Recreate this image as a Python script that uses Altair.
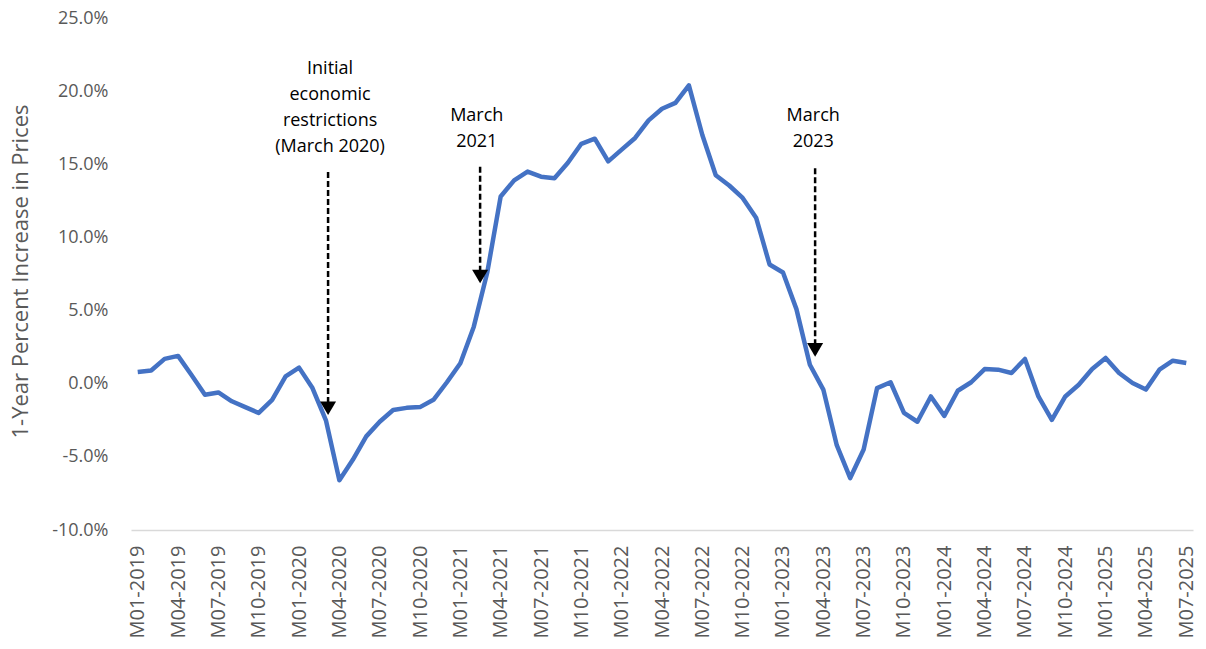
import json
import altair as alt
import pandas as pd

# ---- data ----
years = [2019, 2020, 2021, 2022, 2023, 2024, 2025]
months = [f"M{m:02d}-{y}" for y in years for m in range(1, 13)][:79]

pct_change = [
    0.8, 0.9, 1.7, 1.9, 0.6, -0.75, -0.6, -1.2, -1.6, -2.0, -1.1, 0.5,
    1.1, -0.3, -2.5, -6.6, -5.2, -3.6, -2.6, -1.8, -1.65, -1.6, -1.1, 0.1,
    1.4, 3.9, 7.6, 12.8, 13.9, 14.5, 14.15, 14.05, 15.1, 16.4, 16.75, 15.2,
    16.0, 16.8, 18.0, 18.8, 19.2, 20.4, 17.0, 14.25, 13.55, 12.7, 11.35, 8.15,
    7.6, 5.1, 1.3, -0.4, -4.2, -6.45, -4.5, -0.3, 0.1, -2.0, -2.6, -0.87,
    -2.2, -0.48, 0.1, 1.0, 0.96, 0.73, 1.69, -0.87, -2.47, -0.87, -0.07, 1.0,
    1.76, 0.73, 0.05, -0.4, 0.96, 1.57, 1.42,
]

tick_idx = list(range(0, 79, 3))
y_ticks = [-10, -5, 0, 5, 10, 15, 20, 25]

# annotations (data coordinates: month index, percent)
arrow_x = [14.16, 25.47, 50.39]
arrow_top = [14.47, 14.84, 14.73]
arrow_tip = [-2.14, 6.86, 1.85]

note_text = ["Initial\neconomic\nrestrictions\n(March 2020)", "March\n2021", "March\n2023"]
note_x = [14.31, 25.22, 50.25]
note_y = [22.1, 18.9, 18.9]

# ---- frames ----
df = pd.DataFrame({"idx": list(range(len(pct_change))), "month": months, "pct": pct_change})
arrows = pd.DataFrame({"x": arrow_x, "top": arrow_top, "tip": arrow_tip})
notes = pd.DataFrame({"x": note_x, "y": note_y, "text": note_text})

FONT = "Open Sans"
GRAY = "#595959"

x_scale = alt.Scale(domain=[-0.5, 78.5], nice=False, zero=False)
y_scale = alt.Scale(domain=[-10, 25], nice=False)

x_axis = alt.Axis(
    values=tick_idx,
    labelExpr=f"{json.dumps(months)}[datum.value]",
    labelAngle=-90,
    labelAlign="right",
    labelBaseline="middle",
    labelFontSize=20,
    labelFont=FONT,
    labelColor=GRAY,
    labelPadding=15,
    ticks=False,
    grid=False,
    domainColor="#d9d9d9",
    domainWidth=1.5,
    title=None,
    labelOverlap=False,
)

y_axis = alt.Axis(
    values=y_ticks,
    labelExpr="(datum.value < 0 ? '-' : '') + format(abs(datum.value), '.1f') + '%'",
    labelFontSize=18,
    labelFont=FONT,
    labelColor=GRAY,
    labelPadding=23,
    ticks=False,
    grid=False,
    domain=False,
    title="1-Year Percent Increase in Prices",
    titleFont=FONT,
    titleFontSize=22,
    titleFontWeight="normal",
    titleColor=GRAY,
    titleX=-111,
    titleY=253,
    titleAngle=270,
    titleAlign="center",
    titleBaseline="middle",
)

line = alt.Chart(df).mark_line(color="#4472C4", strokeWidth=4.5, strokeJoin="round").encode(
    x=alt.X("idx:Q", scale=x_scale, axis=x_axis),
    y=alt.Y("pct:Q", scale=y_scale, axis=y_axis),
)

rules = alt.Chart(arrows).mark_rule(color="black", strokeWidth=2.5, strokeDash=[6, 3]).encode(
    x=alt.X("x:Q", scale=x_scale),
    y=alt.Y("top:Q", scale=y_scale),
    y2="tip:Q",
)

heads = alt.Chart(arrows).mark_point(
    shape="M-1,-1.7L1,-1.7L0,0Z", filled=True, color="black", opacity=1, size=256, strokeWidth=0
).encode(
    x=alt.X("x:Q", scale=x_scale),
    y=alt.Y("tip:Q", scale=y_scale),
)

texts = alt.Chart(notes).mark_text(
    font=FONT, fontSize=18, color="black", align="center", baseline="top", lineBreak="\n", lineHeight=26
).encode(
    x=alt.X("x:Q", scale=x_scale),
    y=alt.Y("y:Q", scale=y_scale),
    text="text:N",
)

chart = alt.layer(line, rules, heads, texts).properties(
    width=1062,
    height=512,
    padding={"left": 131, "top": 18, "right": 13, "bottom": 119},
    autosize=alt.AutoSizeParams(type="none"),
    background="white",
).configure_view(stroke=None)

chart.save("out.html", embed_options={"renderer": "svg", "actions": False})
